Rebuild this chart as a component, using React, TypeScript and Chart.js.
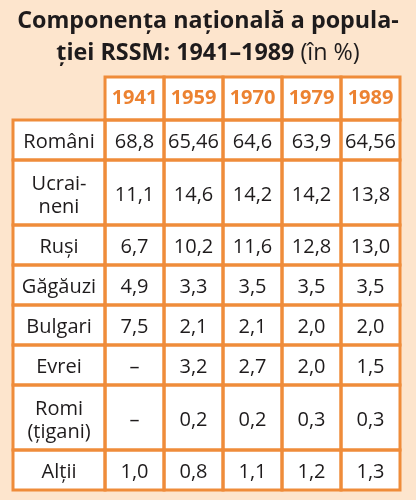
import React, { useEffect, useRef } from 'react';
import { Chart, registerables } from 'chart.js';

Chart.register(...registerables);

// ---- data ----
const titleLine1 = 'Componența națională a popula-';
const titleLine2Bold = 'ției RSSM: 1941–1989';
const titleLine2Rest = ' (în %)';

const years = ['1941', '1959', '1970', '1979', '1989'];
const groups = ['Români', 'Ucrai-\nneni', 'Ruși', 'Găgăuzi', 'Bulgari', 'Evrei', 'Romi\n(țigani)', 'Alții'];

const s1941: (number | null)[] = [68.8, 11.1, 6.7, 4.9, 7.5, null, null, 1.0];
const s1959: (number | null)[] = [65.46, 14.6, 10.2, 3.3, 2.1, 3.2, 0.2, 0.8];
const s1970: (number | null)[] = [64.6, 14.2, 11.6, 3.5, 2.1, 2.7, 0.2, 1.1];
const s1979: (number | null)[] = [63.9, 14.2, 12.8, 3.5, 2.0, 2.0, 0.3, 1.2];
const s1989: (number | null)[] = [64.56, 13.8, 13.0, 3.5, 2.0, 1.5, 0.3, 1.3];

const seriesByYear = [s1941, s1959, s1970, s1979, s1989];

// ---- layout (scale units) ----
const LABEL_COL = 1.56;
const HEADER_ROW = 1.075;
const DOUBLE_ROW = 1.625;

const BG = '#FDE5CD';
const ORANGE = '#EF8C3A';
const ORANGE_TEXT = '#EC8231';
const INK = '#1E1B1C';
const FONT = '"Open Sans", sans-serif';
const TITLE_SIZE = 23.3;

function fmt(v: number | null): string {
  if (v === null) return '–';
  let s = String(v);
  if (!s.includes('.')) s += '.0';
  return s.replace('.', ',');
}

const xBounds: number[] = [0, LABEL_COL];
years.forEach((_, j) => xBounds.push(LABEL_COL + j + 1));
const yBounds: number[] = [0, HEADER_ROW];
groups.forEach((g) => {
  const h = g.includes('\n') ? DOUBLE_ROW : 1;
  yBounds.push(yBounds[yBounds.length - 1] + h);
});
const rowCenters = groups.map((_, i) => (yBounds[i + 1] + yBounds[i + 2]) / 2);

const tablePlugin = {
  id: 'tablePlugin',
  beforeDatasetsDraw(chart: any) {
    const { ctx, scales } = chart;
    const x = scales.x;
    const y = scales.y;
    const rects: [number, number, number, number][] = [];
    for (let r = 0; r < yBounds.length - 1; r++) {
      for (let c = 0; c < xBounds.length - 1; c++) {
        if (r === 0 && c === 0) continue;
        const l = x.getPixelForValue(xBounds[c]);
        const rr = x.getPixelForValue(xBounds[c + 1]);
        const t = y.getPixelForValue(yBounds[r]);
        const b = y.getPixelForValue(yBounds[r + 1]);
        rects.push([l, t, rr - l, b - t]);
      }
    }
    ctx.save();
    ctx.fillStyle = '#FFFFFF';
    rects.forEach(([l, t, w, h]) => ctx.fillRect(l, t, w, h));
    ctx.strokeStyle = ORANGE;
    ctx.lineWidth = 3;
    rects.forEach(([l, t, w, h]) => ctx.strokeRect(l, t, w, h));
    ctx.restore();
  },
  afterDatasetsDraw(chart: any) {
    const { ctx, scales } = chart;
    const x = scales.x;
    const y = scales.y;
    ctx.save();
    ctx.textAlign = 'center';
    ctx.textBaseline = 'alphabetic';
    // header years
    ctx.font = `bold 20px ${FONT}`;
    ctx.fillStyle = ORANGE_TEXT;
    const hy = y.getPixelForValue((yBounds[0] + yBounds[1]) / 2);
    years.forEach((yr, j) => {
      const cx = x.getPixelForValue((xBounds[j + 1] + xBounds[j + 2]) / 2);
      ctx.fillText(yr, cx, hy + 5);
    });
    // row labels
    ctx.font = `20px ${FONT}`;
    ctx.fillStyle = INK;
    const lx = x.getPixelForValue(LABEL_COL / 2);
    groups.forEach((g, i) => {
      const lines = g.split('\n');
      const cy = y.getPixelForValue(rowCenters[i]);
      lines.forEach((ln, k) => {
        const off = lines.length > 1 ? 1.5 + (k - (lines.length - 1) / 2) * 23 : 1;
        ctx.fillText(ln, lx, cy + off + 7);
      });
    });
    // values at dataset point positions
    seriesByYear.forEach((series, j) => {
      const meta = chart.getDatasetMeta(j);
      meta.data.forEach((pt: any, i: number) => {
        ctx.fillText(fmt(series[i]), pt.x, pt.y + 8);
      });
    });
    ctx.restore();
  },
  afterDraw(chart: any) {
    const { ctx } = chart;
    const cx = chart.width / 2;
    ctx.save();
    ctx.fillStyle = INK;
    ctx.textBaseline = 'alphabetic';
    ctx.textAlign = 'center';
    const boldFont = `bold ${TITLE_SIZE}px ${FONT}`;
    const regFont = `${TITLE_SIZE}px ${FONT}`;
    ctx.font = boldFont;
    ctx.fillText(titleLine1, cx, 28);
    const w1 = ctx.measureText(titleLine2Bold).width;
    ctx.font = regFont;
    const w2 = ctx.measureText(titleLine2Rest).width;
    const start = cx - (w1 + w2) / 2;
    ctx.textAlign = 'left';
    ctx.font = boldFont;
    ctx.fillText(titleLine2Bold, start, 60);
    ctx.font = regFont;
    ctx.fillText(titleLine2Rest, start + w1, 60);
    ctx.restore();
  },
};

export default function App() {
  const ref = useRef<HTMLCanvasElement | null>(null);
  useEffect(() => {
    if (!ref.current) return;
    const chart = new Chart(ref.current, {
      type: 'scatter',
      data: {
        datasets: seriesByYear.map((series, j) => ({
          label: years[j],
          data: series.map((v, i) => ({ x: (xBounds[j + 1] + xBounds[j + 2]) / 2, y: rowCenters[i] })),
          pointRadius: 0,
          pointHoverRadius: 0,
        })),
      },
      options: {
        animation: false,
        responsive: false,
        events: [],
        layout: { padding: { left: 13, right: 16, top: 77, bottom: 10 } },
        scales: {
          x: { type: 'linear', display: false, min: 0, max: xBounds[xBounds.length - 1] },
          y: { type: 'linear', display: false, reverse: true, min: 0, max: yBounds[yBounds.length - 1] },
        },
        plugins: { legend: { display: false }, tooltip: { enabled: false }, title: { display: false } },
      },
      plugins: [tablePlugin],
    });
    return () => chart.destroy();
  }, []);
  return (
    <div style={{ position: 'fixed', left: 0, top: 0, width: 416, height: 500, background: BG }}>
      <canvas ref={ref} width={416} height={500} style={{ display: 'block', width: 416, height: 500 }} />
    </div>
  );
}
